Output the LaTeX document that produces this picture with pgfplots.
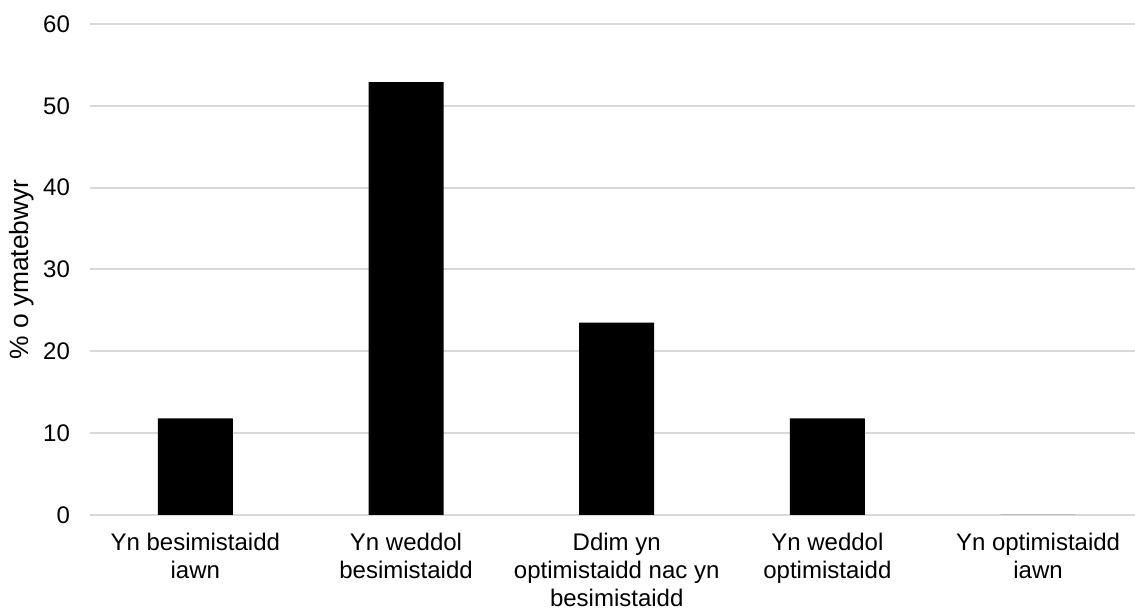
\documentclass[border=0pt]{standalone}
\usepackage{pgfplots}
\pgfplotsset{compat=1.18}
\usepackage{fontspec}
\setmainfont{Liberation Sans}
\definecolor{gridgray}{HTML}{D9D9D9}
\begin{document}
\begin{tikzpicture}
\begin{axis}[
  at={(0,0)}, anchor=south west,
  scale only axis,
  width=522.5pt, height=245.5pt,
  xmin=-0.5, xmax=4.46,
  ymin=0, ymax=60,
  ytick={0,10,...,60},
  xtick={0,1,2,3,4},
  xticklabels={{Yn besimistaidd\\iawn},{Yn weddol\\besimistaidd},{Ddim yn\\optimistaidd nac yn\\besimistaidd},{Yn weddol\\optimistaidd},{Yn optimistaidd\\iawn}},
  xticklabel style={align=center, font=\fontsize{12}{13.9}\selectfont, yshift=-5.5pt},
  yticklabel style={font=\fontsize{12}{14.35}\selectfont, xshift=-6.5pt},
  /pgf/number format/assume math mode=true,
  major tick length=0pt,
  axis x line*=bottom,
  axis y line*=left,
  x axis line style={draw=none},
  y axis line style={draw=none},
  ymajorgrids,
  grid style={gridgray, line width=1pt},
  ylabel={\% o ymatebwyr},
  ylabel style={at={(axis description cs:-0.0656,0.5)}, anchor=center, font=\fontsize{13.2}{15.5}\selectfont},
  ybar, bar width=37.5pt,
  clip=false,
]
\addplot[fill=black, draw=none] coordinates {(0,11.8) (1,52.9) (2,23.5) (3,11.8) (4,0)};
\end{axis}
\pgfresetboundingbox
\path (-45pt,-47pt) rectangle (522.5pt,257.5pt);
\end{tikzpicture}
\end{document}
